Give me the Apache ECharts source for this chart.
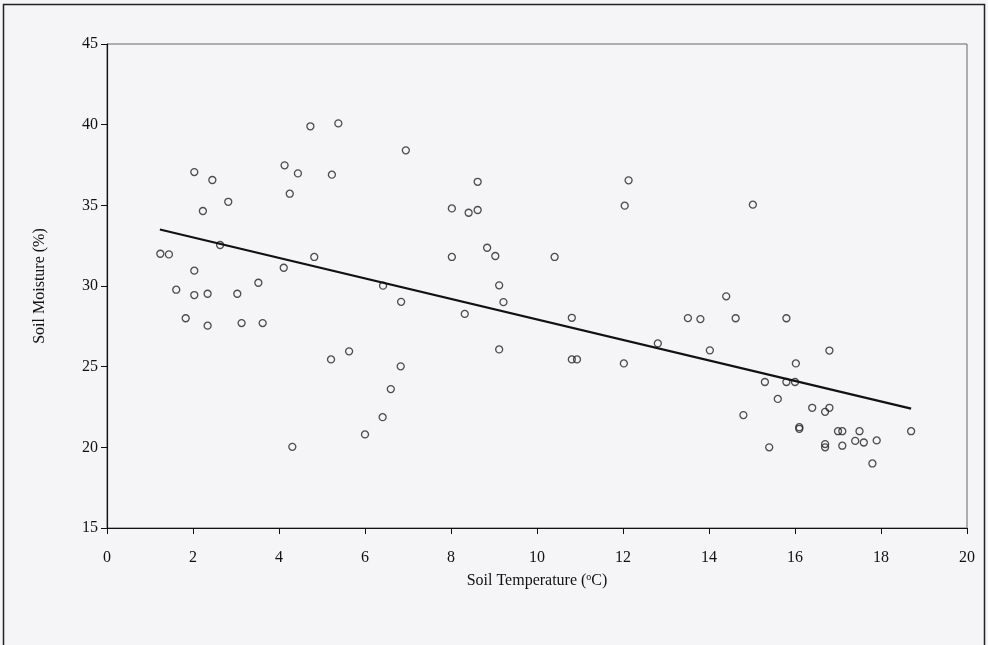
<!DOCTYPE html>
<html><head><meta charset="utf-8">
<script src="https://cdn.jsdelivr.net/npm/echarts@6/dist/echarts.min.js"></script>
<style>html,body{margin:0;padding:0;background:#f5f5f7}#c{width:988px;height:645px}</style>
</head><body><div id="c"></div>
<script>
const soilTemp = [1.24,1.44,1.61,1.83,2.03,2.03,2.03,2.23,2.34,2.34,2.45,2.63,2.82,3.03,3.13,3.52,3.62,4.11,4.13,4.25,4.31,4.44,4.73,4.82,5.21,5.23,5.38,5.63,6.0,6.41,6.42,6.6,6.83,6.84,6.95,8.02,8.02,8.32,8.41,8.62,8.62,8.84,9.03,9.12,9.12,9.22,10.41,10.81,10.81,10.93,12.02,12.04,12.13,12.81,13.51,13.8,14.02,14.4,14.62,14.8,15.02,15.3,15.4,15.6,15.8,15.8,16.02,16.0,16.1,16.1,16.4,16.7,16.8,16.8,16.7,16.7,17.0,17.1,17.1,17.4,17.5,17.6,17.8,17.9,18.7];
const soilMoisture = [32.0,31.96,29.77,28.0,37.06,30.95,29.44,34.65,29.52,27.54,36.57,32.54,35.22,29.52,27.7,30.2,27.7,31.13,37.48,35.72,20.03,36.98,39.9,31.8,25.45,36.9,40.08,25.95,20.8,21.87,30.02,23.61,25.02,29.02,38.41,34.81,31.8,28.27,34.54,36.46,34.71,32.37,31.86,30.04,26.07,29.0,31.8,28.03,25.45,25.45,25.2,34.98,36.55,26.44,28.01,27.95,26.01,29.36,28.0,22.0,35.04,24.05,20.0,23.0,28.0,24.05,25.2,24.05,21.25,21.15,22.45,22.2,22.45,26.0,20.2,20.0,21.0,21.0,20.1,20.4,21.0,20.3,19.0,20.43,21.0];
const trendX = [1.23, 18.7];
const trendY = [33.5, 22.4];
const xTicks = {min:0, max:20, interval:2};
const yTicks = {min:15, max:45, interval:5};

const font = '"Liberation Serif", "Times New Roman", serif';
const chart = echarts.init(document.getElementById('c'));
chart.setOption({
  backgroundColor: '#f5f5f7',
  animation: false,
  graphic: [{type:'rect', shape:{x:3.5,y:4.5,width:981,height:660}, style:{fill:'none', stroke:'#222', lineWidth:1.5}, silent:true}],
  grid: {left:107, top:44, right:21, bottom:117, show:true, borderColor:'#666', borderWidth:1, backgroundColor:'transparent'},
  xAxis: {
    type:'value', min:xTicks.min, max:xTicks.max, interval:xTicks.interval,
    name:'Soil Temperature ({sup|o}C)', nameLocation:'middle', nameGap:44,
    nameTextStyle:{fontFamily:font, fontSize:16, color:'#111', rich:{sup:{fontFamily:font, fontSize:10, verticalAlign:'top', padding:[0,0,8,0], color:'#111'}}},
    axisLine:{onZero:false, lineStyle:{color:'#111', width:1.2}},
    axisTick:{show:true, inside:false, length:6, lineStyle:{color:'#111'}},
    axisLabel:{fontFamily:font, fontSize:16, color:'#111', margin:22},
    splitLine:{show:false}
  },
  yAxis: {
    type:'value', min:yTicks.min, max:yTicks.max, interval:yTicks.interval,
    name:'Soil Moisture (%)', nameLocation:'middle', nameGap:59,
    nameTextStyle:{fontFamily:font, fontSize:16, color:'#111'},
    axisLine:{onZero:false, lineStyle:{color:'#111', width:1.2}},
    axisTick:{show:true, inside:false, length:6, lineStyle:{color:'#111'}},
    axisLabel:{fontFamily:font, fontSize:16, color:'#111', margin:9},
    splitLine:{show:false}
  },
  series: [
    {type:'scatter', data: soilTemp.map((x,i)=>[x, soilMoisture[i]]), symbol:'circle', symbolSize:7,
     itemStyle:{color:'rgba(0,0,0,0)', borderColor:'#222', borderWidth:1.3}},
    {type:'line', data: trendX.map((x,i)=>[x, trendY[i]]), symbol:'none', lineStyle:{color:'#111', width:2.2}}
  ]
});
</script></body></html>
